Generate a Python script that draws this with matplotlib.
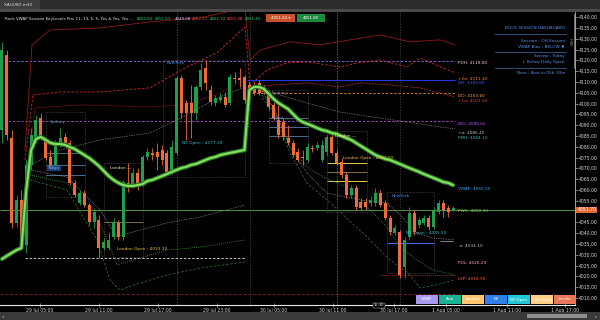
import matplotlib
matplotlib.use("Agg")
import matplotlib.pyplot as plt
from matplotlib.patches import Rectangle
from matplotlib.lines import Line2D
from matplotlib.transforms import blended_transform_factory
import numpy as np

plt.rcParams['font.family'] = ['DejaVu Sans']

# ---------------- data (XAUUSD m30) ----------------
opens = [4087.8, 4122.5, 4084.1, 4044.8, 4055.4, 4034.6, 4071.6, 4084.6, 4093.4, 4083.2,
         4075.3, 4071.6, 4080.9, 4084.6, 4081.8, 4063.3, 4054.0, 4058.6, 4053.1, 4045.2,
         4046.1, 4033.2, 4033.2, 4038.3, 4044.8, 4038.3, 4063.3, 4062.3, 4067.9, 4063.3,
         4075.3, 4077.2, 4077.6, 4078.5, 4077.2, 4068.4, 4077.2, 4111.9, 4100.3, 4100.3,
         4095.7, 4107.7, 4116.5, 4106.3, 4100.3, 4101.7, 4103.1, 4100.3, 4111.9, 4111.9,
         4112.3, 4108.6, 4107.7, 4109.6, 4107.3, 4104.9, 4099.4, 4092.4, 4091.5, 4084.1,
         4081.8, 4077.6, 4075.3, 4073.9, 4079.5, 4079.5, 4073.9, 4077.6, 4084.6, 4077.2,
         4073.0, 4067.0, 4057.7, 4061.0, 4054.5, 4054.5, 4054.0, 4054.0, 4058.6, 4054.0,
         4047.1, 4040.1, 4040.6, 4024.4, 4038.3, 4049.4, 4043.8, 4044.8, 4047.1, 4042.9,
         4049.8, 4054.0, 4051.7, 4050.8]
highs = [4128.6, 4124.8, 4087.8, 4057.7, 4060.0, 4073.9, 4088.7, 4094.8, 4095.7, 4084.6,
         4078.5, 4083.2, 4088.7, 4086.4, 4083.2, 4064.7, 4060.0, 4060.0, 4054.0, 4051.7,
         4048.5, 4037.8, 4040.6, 4047.1, 4046.1, 4064.7, 4072.5, 4070.2, 4070.2, 4076.2,
         4079.5, 4079.5, 4081.8, 4080.9, 4078.5, 4083.2, 4112.8, 4113.3, 4101.7, 4108.6,
         4108.6, 4118.8, 4120.2, 4108.6, 4104.0, 4104.9, 4105.4, 4113.7, 4114.7, 4116.5,
         4113.3, 4110.0, 4110.0, 4111.0, 4108.6, 4106.3, 4100.8, 4099.4, 4093.4, 4090.1,
         4083.2, 4079.5, 4078.5, 4081.8, 4080.9, 4082.3, 4083.2, 4085.5, 4086.4, 4078.5,
         4074.8, 4068.4, 4062.3, 4062.3, 4056.3, 4056.3, 4057.3, 4061.0, 4060.0, 4055.4,
         4048.5, 4043.8, 4041.5, 4038.3, 4052.2, 4050.8, 4047.5, 4048.5, 4048.5, 4052.2,
         4055.4, 4055.4, 4053.1, 4052.6]
lows = [4081.8, 4083.2, 4042.4, 4042.9, 4032.2, 4030.9, 4069.3, 4083.2, 4083.2, 4073.9,
        4070.2, 4070.7, 4079.9, 4080.9, 4062.3, 4056.8, 4053.1, 4052.2, 4043.8, 4042.4,
        4028.5, 4032.2, 4032.2, 4037.3, 4036.9, 4036.9, 4059.1, 4061.0, 4060.0, 4061.9,
        4073.9, 4073.9, 4069.3, 4071.6, 4067.0, 4067.4, 4076.2, 4093.4, 4083.2, 4084.1,
        4092.4, 4106.3, 4106.3, 4099.4, 4098.9, 4100.8, 4098.5, 4099.4, 4109.6, 4107.7,
        4100.3, 4101.7, 4104.0, 4104.0, 4104.5, 4097.1, 4092.4, 4084.1, 4083.2, 4080.9,
        4075.3, 4073.0, 4071.6, 4073.0, 4077.6, 4078.5, 4073.0, 4076.2, 4076.2, 4071.6,
        4065.6, 4056.3, 4056.3, 4050.8, 4050.8, 4050.8, 4052.6, 4052.6, 4052.2, 4046.1,
        4039.2, 4039.2, 4019.3, 4019.3, 4036.9, 4039.2, 4042.4, 4043.8, 4041.5, 4042.0,
        4048.9, 4047.5, 4047.5, 4050.3]
closes = [4124.8, 4085.5, 4044.8, 4055.4, 4034.6, 4071.6, 4085.5, 4092.4, 4084.6, 4074.8,
          4071.6, 4081.8, 4084.1, 4081.8, 4063.3, 4057.7, 4058.6, 4053.1, 4045.2, 4049.8,
          4033.2, 4036.0, 4036.9, 4045.2, 4038.3, 4063.7, 4061.0, 4067.9, 4061.4, 4075.3,
          4077.6, 4076.2, 4075.3, 4073.9, 4068.4, 4079.9, 4111.9, 4095.7, 4095.7, 4095.7,
          4107.7, 4115.6, 4109.6, 4100.8, 4102.6, 4103.1, 4099.4, 4112.3, 4111.4, 4111.0,
          4101.7, 4103.1, 4104.9, 4104.9, 4105.4, 4098.5, 4093.4, 4085.5, 4084.6, 4081.8,
          4076.2, 4073.9, 4074.8, 4079.9, 4079.0, 4080.9, 4080.9, 4084.6, 4077.2, 4072.5,
          4067.0, 4057.7, 4061.0, 4052.2, 4051.7, 4052.2, 4055.4, 4058.6, 4053.1, 4047.1,
          4040.6, 4042.4, 4020.7, 4036.9, 4049.4, 4040.6, 4046.1, 4047.1, 4042.9, 4050.8,
          4054.0, 4050.8, 4049.8, 4051.7]
vwap = [4028.1, 4029.5, 4030.9, 4032.2, 4033.2, 4060.0, 4078.5, 4083.6, 4084.6, 4083.2,
        4081.8, 4081.3, 4081.3, 4080.9, 4079.9, 4079.0, 4077.6, 4076.2, 4074.8, 4073.0,
        4071.1, 4068.8, 4066.5, 4064.7, 4063.3, 4062.3, 4061.9, 4061.9, 4062.3, 4062.8,
        4064.2, 4064.7, 4065.6, 4066.5, 4067.4, 4068.4, 4069.3, 4070.2, 4070.7, 4071.6,
        4072.1, 4073.0, 4073.9, 4074.8, 4075.3, 4076.2, 4076.7, 4077.2, 4077.6, 4078.1,
        4078.5, 4106.3, 4107.7, 4107.7, 4106.8, 4104.5, 4102.2, 4100.3, 4098.9, 4097.5,
        4095.2, 4092.9, 4091.5, 4090.6, 4089.7, 4088.7, 4087.8, 4087.3, 4086.4, 4086.0,
        4085.0, 4084.1, 4083.2, 4081.8, 4080.4, 4079.0, 4077.6, 4076.2, 4075.3, 4074.4,
        4073.9, 4073.0, 4072.1, 4071.1, 4070.2, 4069.3, 4068.4, 4067.4, 4066.5, 4065.6,
        4064.7, 4063.7, 4063.3, 4062.3]

# VWAP deviation bands: vertices as (bar index, price)
u3_x = [4.74, 6.19, 9.9, 20.2, 30.5, 40.8, 50.1, 51.13, 53.2, 59.38, 65.57, 71.75, 77.94, 84.12, 90.31, 93.4]
u3_y = [4078.5, 4127.2, 4134.1, 4135.0, 4137.8, 4139.7, 4144.3, 4120.2, 4124.8, 4128.6, 4127.2, 4129.5, 4131.8, 4128.6, 4129.5, 4127.2]
u2_x = [4.74, 6.39, 11.96, 20.2, 30.5, 38.14, 44.33, 50.1, 51.13, 54.64, 58.76, 62.89, 69.69, 73.2, 77.94, 83.51, 86.19, 93.4]
u2_y = [4073.9, 4104.0, 4105.4, 4105.4, 4107.3, 4117.0, 4123.5, 4135.5, 4108.6, 4115.6, 4118.8, 4119.3, 4117.0, 4118.8, 4120.2, 4117.0, 4121.1, 4114.2]
u1a_x = [5.36, 6.8, 16.08, 30.5, 37.73, 43.92, 50.1]
u1a_y = [4069.3, 4098.0, 4099.4, 4098.5, 4099.4, 4104.0, 4111.0]
u1b_x = [51.75, 55.88, 62.89, 69.69, 73.81, 80.0, 86.19, 93.4]
u1b_y = [4107.7, 4108.6, 4109.6, 4107.7, 4109.6, 4108.6, 4107.3, 4103.1]
ug_a_x = [5.77, 11.96, 20.2, 30.5, 37.3, 44.33, 50.1]
ug_a_y = [4071.6, 4078.5, 4083.2, 4086.4, 4093.8, 4102.6, 4107.7]
ug_b_x = [52.58, 55.88, 62.89, 69.69, 76.49, 83.51, 90.31, 93.4]
ug_b_y = [4107.3, 4104.9, 4100.3, 4096.1, 4093.8, 4091.5, 4089.2, 4088.3]
lg_a_x = [5.77, 13.4, 20.2, 23.71, 27.01, 34.02, 40.82, 50.1]
lg_a_y = [4069.3, 4066.0, 4050.8, 4038.3, 4040.6, 4044.8, 4047.5, 4053.1]
lg_b_x = [53.61, 56.29, 59.38, 62.89, 67.01, 73.81, 79.38, 82.06, 85.57, 88.87, 93.4]
lg_b_y = [4105.4, 4097.1, 4079.9, 4067.9, 4058.6, 4055.4, 4054.0, 4048.5, 4040.1, 4037.8, 4036.9]
l2a_x = [5.77, 13.4, 20.2, 22.27, 23.71, 27.01, 34.02, 40.82, 50.1]
l2a_y = [4067.0, 4063.3, 4044.8, 4033.6, 4025.3, 4027.6, 4032.2, 4033.6, 4036.9]
l2b_x = [53.61, 55.88, 59.38, 62.89, 66.19, 71.13, 75.26, 79.38, 82.06, 85.57, 88.87, 93.4]
l2b_y = [4104.0, 4098.5, 4079.9, 4070.7, 4066.0, 4061.4, 4052.2, 4042.9, 4033.6, 4027.6, 4023.0, 4020.7]
l3a_x = [5.77, 13.4, 19.59, 22.27, 24.33, 27.01, 34.02, 40.82, 50.1]
l3a_y = [4064.7, 4060.0, 4036.9, 4018.4, 4013.7, 4016.0, 4020.7, 4023.9, 4026.7]
l3b_x = [53.61, 55.88, 59.38, 62.89, 67.01, 75.26, 80.0, 83.51, 86.19, 89.28, 93.4]
l3b_y = [4102.6, 4097.1, 4077.2, 4063.3, 4055.4, 4038.3, 4027.6, 4022.1, 4014.7, 4016.0, 4018.4]

# horizontal key levels: price, first bar, last bar
lvl_price = [4119.8, 4092.0, 4111.0, 4104.9, 4050.8, 4028.5, 4011.9, 4020.7, 4036.4, 4035.5]
lvl_start = [-0.41, -0.41, 50.5, 51.5, -0.41, 4.74, -0.41, 78.0, 90.3, 79.38]
lvl_end = [93.4, 93.4, 93.4, 93.4, 118.14, 50.1, 93.4, 93.4, 93.0, 89.07]

# right-hand level labels
rl_names = ["PDH", "+2σ", "DH", "DO", "+1σ", "WO", "+σ", "PMH", "VWAP", "PWC", "-σ", "PDL", "LVP"]
rl_prices = [4118.8, 4111.4, 4109.6, 4103.6, 4101.2, 4090.6, 4086.4, 4084.1, 4060.5, 4050.3, 4034.1, 4026.2, 4018.9]

# sessions: name, first bar, last bar, high, low
sess_names = ["Tokyo", "London", "NewYork", "Tokyo", "London", "NewYork"]
sess_start = [9.07, 21.03, 33.2, 55.05, 67.01, 79.38]
sess_end = [17.11, 29.07, 50.1, 63.09, 75.26, 89.07]
sess_high = [4096.1, 4072.5, 4120.2, 4106.3, 4087.3, 4059.1]
sess_low = [4056.8, 4029.0, 4066.0, 4072.5, 4049.8, 4021.6]
tokyo_lines_1 = [4077.2, 4071.6, 4067.0]
tokyo_lines_2 = [4093.4, 4089.2, 4085.0]
london_lines_1 = [4050.8, 4045.2]
london_lines_2 = [4072.5, 4068.4, 4064.2]
london_open = [4033.2, 4073.0]
ny_open = [4077.2, 4035.5]
session_vlines = [36.08, 51.13, 69.07, 82.06]

price_ticks = [4140, 4135, 4130, 4125, 4120, 4115, 4110, 4105, 4100, 4095, 4090, 4085, 4080,
               4075, 4070, 4065, 4060, 4055, 4050, 4045, 4040, 4035, 4030, 4025, 4020, 4015, 4010]
time_tick_idx = [7.84, 20.0, 32.16, 44.33, 56.08, 68.25, 80.82, 91.55, 104.12, 116.08]
time_tick_labels = ["29 Jul 05:00", "29 Jul 11:00", "29 Jul 17:00", "29 Jul 23:00", "30 Jul 05:00",
                    "30 Jul 11:00", "30 Jul 17:00", "1 Aug 05:00", "1 Aug 11:00", "1 Aug 17:00"]
last_price = 4051.70

# ---------------- figure ----------------
W, H = 600, 320
fig = plt.figure(figsize=(6, 3.2), dpi=100, facecolor='black')


def fx(px):
    return px / W


def fy(py):
    return 1 - py / H


def frect(x0, y0, x1, y1, color, z=1, **kw):
    r = Rectangle((fx(x0), fy(y1)), fx(x1) - fx(x0), fy(y0) - fy(y1), transform=fig.transFigure,
                  facecolor=color, edgecolor=kw.pop('ec', 'none'), lw=kw.pop('lw', 0), zorder=z, **kw)
    fig.patches.append(r)


# window chrome
frect(0, 0, 600, 9, '#2b2b2b')
frect(0, 0, 40, 9, '#3d3d3d')
frect(0, 9, 600, 12, '#4a4a4a')
fig.text(fx(4), fy(4.8), 'XAUUSD m30', fontsize=3.0, color='#dddddd', va='center')
frect(0, 312, 600, 320, '#3a3a3a')
frect(527, 314, 587, 318, '#8e8e8e')
fig.text(fx(2), fy(316), '◂', fontsize=3, color='#999999', va='center')
fig.text(fx(595), fy(316), '▸', fontsize=3, color='#999999', va='center')

ax = fig.add_axes([0, fy(305), fx(575), (305 - 12) / H])
ax.set_facecolor('black')
ax.set_xlim(-0.41, 118.14)
ax.set_ylim(4006.8, 4142.4)

# session vertical separators
vl_colors = ['#2f6f78', '#4a4a4a', '#9a7a48', '#4a4a4a']
for xv, c in zip(session_vlines, vl_colors):
    ax.axvline(xv, color=c, lw=0.5, ls=(0, (2, 2)), zorder=1)

# session boxes
for s0, s1, hi, lo in zip(sess_start, sess_end, sess_high, sess_low):
    ax.add_patch(Rectangle((s0, lo), s1 - s0, hi - lo, fill=False, edgecolor='#5c5c5c',
                           lw=0.5, ls=(0, (1, 1.5)), zorder=1))
for p in tokyo_lines_1:
    ax.hlines(p, sess_start[0], sess_end[0], color='#4e7fa6', lw=0.6, zorder=2)
for p in tokyo_lines_2:
    ax.hlines(p, sess_start[3], sess_end[3], color='#4e7fa6', lw=0.6, zorder=2)
for p, c in zip(london_lines_1, ['#b7b25a', '#7f6c44']):
    ax.hlines(p, sess_start[1], sess_end[1], color=c, lw=0.7, zorder=2)
for p, c in zip(london_lines_2, ['#e8c84a', '#8a6e3a', '#e8c84a']):
    ax.hlines(p, sess_start[4], sess_end[4], color=c, lw=0.7, zorder=2)

# key level lines
lvl_colors = ['#8e6bd8', '#b04ad0', '#2436e0', '#d98c2b', '#4e8f3a', '#e6d6d6', '#7a1e1e', '#8a2a1a', '#9a9a9a', '#3b6fe0']
lvl_styles = [(0, (3, 2)), (0, (3, 2)), '-', (0, (3, 2)), '-', (0, (3, 2)), (0, (3, 2)), (0, (1, 1)), '-', '-']
lvl_widths = [0.6, 0.6, 0.8, 0.6, 0.7, 0.6, 0.7, 0.7, 0.6, 0.8]
for p, a, b, c, s, w in zip(lvl_price, lvl_start, lvl_end, lvl_colors, lvl_styles, lvl_widths):
    ax.hlines(p, a, b, color=c, lw=w, ls=s, zorder=2)

# VWAP bands
ax.plot(u3_x, u3_y, color='#8e1b1b', lw=0.6, zorder=3)
ax.plot(u2_x, u2_y, color='#d02a2a', lw=0.6, ls=(0, (3, 2)), zorder=3)
ax.plot(u1a_x, u1a_y, color='#a02020', lw=0.6, ls=(0, (1, 1)), zorder=3)
ax.plot(u1b_x, u1b_y, color='#c03030', lw=0.6, ls=(0, (2, 1.5)), zorder=3)
for xs, ys in [(ug_a_x, ug_a_y), (ug_b_x, ug_b_y), (lg_a_x, lg_a_y), (lg_b_x, lg_b_y)]:
    ax.plot(xs, ys, color='#b0b0b0', lw=0.5, ls=(0, (1, 1.5)), zorder=3)
for xs, ys in [(l2a_x, l2a_y), (l2b_x, l2b_y)]:
    ax.plot(xs, ys, color='#3f9a3f', lw=0.6, ls=(0, (1, 1.5)), zorder=3)
for xs, ys in [(l3a_x, l3a_y), (l3b_x, l3b_y)]:
    ax.plot(xs, ys, color='#2a6a2a', lw=0.6, ls=(0, (3, 2)), zorder=3)

# candles
o = np.array(opens)
h = np.array(highs)
l = np.array(lows)
c = np.array(closes)
idx = np.arange(len(o))
cols = np.where(c >= o, '#1f9e4c', '#ef6b3a')
ax.vlines(idx, l, h, colors=cols, lw=0.6, zorder=4)
ax.bar(idx, np.maximum(np.abs(c - o), 0.35), bottom=np.minimum(o, c), width=0.62,
       color=cols, linewidth=0, zorder=5)

# VWAP line
ax.plot(idx, vwap, color='#2a7a25', lw=3.2, solid_capstyle='round', zorder=6)
ax.plot(idx, vwap, color='#86e060', lw=1.5, solid_capstyle='round', zorder=7)

# session labels
fs = 3.1
ax.text(9.9, 4091.1, 'Sydney', color='#4fa3a5', fontsize=fs, zorder=8)
ax.text(9.5, 4070.0, 'Tokyo', color='#9fc8ff', fontsize=fs, va='center', zorder=8,
        bbox=dict(facecolor='#1d3f7a', edgecolor='none', pad=0.5))
ax.text(22.3, 4070.2, 'London —', color='#f0e0b0', fontsize=fs, va='center', zorder=8)
ax.text(23.8, london_open[0] - 0.5, f'London Open : {london_open[0]:.2f}', color='#e8c040', fontsize=fs, va='center', zorder=8)
ax.text(34.0, 4119.0, 'NewYork', color='#3f7fe0', fontsize=fs, va='center', zorder=8)
ax.text(37.2, ny_open[0] + 4.5, f'NY Open : {ny_open[0]:.2f}', color='#38b6c8', fontsize=fs, va='center', zorder=8)
ax.text(55.7, 4104.9, 'Sydney', color='#8a8a8a', fontsize=fs, va='center', zorder=8)
ax.text(55.7, 4093.4, 'Tokyo', color='#6fa8ff', fontsize=fs, va='center', zorder=8)
ax.text(68.7, 4085.0, 'London —', color='#f0e0b0', fontsize=fs, va='center', zorder=8)
ax.text(70.3, london_open[1] + 1.8, f'London Open : {london_open[1]:.2f}', color='#e8c040', fontsize=fs, va='center', zorder=8)
ax.text(80.4, 4057.3, 'NewYork', color='#3f8ff0', fontsize=fs, va='center', zorder=8)
ax.text(83.3, ny_open[1] + 4.6, f'NY Open : {ny_open[1]:.2f}', color='#38c0c8', fontsize=fs, va='center', zorder=8)

# right-hand labels
rl_colors = ['#f0c8d8', '#ff7a3a', '#4060ff', '#ffa640', '#ff3b3b', '#c050ff', '#b8b8b8',
             '#3cb4a0', '#3aa0ff', '#8fd16a', '#b8b8b8', '#ff9fc8', '#ff5a2a']
for n, p, col in zip(rl_names, rl_prices, rl_colors):
    ax.text(94.0, p, f'{n}: {p:.2f}', color=col, fontsize=fs, va='center', zorder=8)

# axes styling
for s in ['top', 'left']:
    ax.spines[s].set_visible(False)
ax.spines['right'].set_color('#bdbdbd')
ax.spines['right'].set_linewidth(0.6)
ax.spines['bottom'].set_color('#e6e6e6')
ax.spines['bottom'].set_linewidth(0.8)
ax.yaxis.tick_right()
ax.set_yticks(price_ticks)
# the 4050.00 label sits under the current-price tag, as on the reference
ax.set_yticklabels(['' if v == 4050 else f'{v:.2f}' for v in price_ticks])
ax.tick_params(axis='y', length=2, width=0.4, colors='#d8d8d8', labelsize=3.3, pad=1)
ax.set_xticks(time_tick_idx)
ax.set_xticklabels(time_tick_labels)
ax.tick_params(axis='x', length=3, width=0.4, colors='#d8d8d8', labelsize=3.3, pad=1.0, direction='inout')

# current price tag on the price scale
tr = blended_transform_factory(ax.transAxes, ax.transData)
ax.text(1.004, lvl_price[4], f'{last_price:.2f}', transform=tr, fontsize=3.3, color='white',
        va='center', ha='left', clip_on=False, zorder=9,
        bbox=dict(facecolor='#e8672f', edgecolor='none', pad=0.6))

# header line
fig.text(fx(5), fy(19), 'Rock VWAP Session KeyLevels Pro, 11, 13, 5, 5, Yes & Yes, Yes ...',
         fontsize=2.9, color='#e8e8e8', va='center')
hdr_vals = ['4050.82', '4051.83', '4049.68', '4052.47', '4051.72', '4050.98', '4051.45']
hdr_cols = ['#3ad16b', '#34c080', '#cfd8ff', '#ff4a4a', '#3ad16b', '#ff4a4a', '#3ad16b']
hdr_x = [137, 155, 175, 192, 210, 227, 245]
for v, col, xx in zip(hdr_vals, hdr_cols, hdr_x):
    fig.text(fx(xx), fy(19), v, fontsize=2.9, color=col, va='center')
frect(266, 14, 295, 22, '#c9512c', z=5)
fig.text(fx(280.5), fy(18), '4051.62 ▾', fontsize=2.9, color='white', ha='center', va='center', zorder=6)
frect(297, 14, 325, 22, '#1b8a3f', z=5)
fig.text(fx(311), fy(18), '4051.80', fontsize=2.9, color='white', ha='center', va='center', zorder=6)

# dashboard panel
dash_col = '#5a8ee8'
dash_rows = [(28, 'ROCK SESSION DASHBOARD'), (41, 'Session : Off-Session'),
             (46, 'VWAP Bias : BELOW ▼'), (56, 'Sweep : Today'),
             (62, '↓ Below Daily Open'), (73, 'Next : Asia in 05h 30m')]
for yy, t in dash_rows:
    fig.text(fx(565), fy(yy), t, fontsize=3.1, color=dash_col, ha='right', va='center', zorder=6)
for yy in [34, 52, 68]:
    fig.add_artist(Line2D([fx(495), fx(566)], [fy(yy), fy(yy)], transform=fig.transFigure,
                          color='#3b5a8c', lw=0.6))
fig.add_artist(Line2D([fx(573.5), fx(573.5)], [fy(14), fy(68)], transform=fig.transFigure,
                      color='#9a9a9a', lw=0.5))
fig.text(fx(570), fy(42), 'HIDE', fontsize=2.4, color='#9a9a9a', rotation=270, ha='center', va='center')

# bottom toggle buttons
btn_labels = ['VWAP', 'Asia', 'London', 'NY', 'NY Open', 'Ldn Open', 'Levels']
btn_colors = ['#a59af0', '#18b394', '#ffc870', '#2f80ed', '#22c8d8', '#ffcf85', '#e8765a']
btn_x = [416, 439, 462, 485, 508, 531, 554]
for lab, col, bx in zip(btn_labels, btn_colors, btn_x):
    frect(bx, 295, bx + 22, 304, col, z=5)
    fig.text(fx(bx + 11), fy(299.5), lab, fontsize=2.8, color='white', ha='center', va='center', zorder=6)

# crosshair time tag
fig.text(fx(379), fy(305.5), '15:30', fontsize=2.6, color='white', ha='center', va='center', zorder=7,
         bbox=dict(facecolor='black', edgecolor='#cccccc', lw=0.3, pad=0.6))

fig.savefig('out.png', dpi=100, facecolor='black')
